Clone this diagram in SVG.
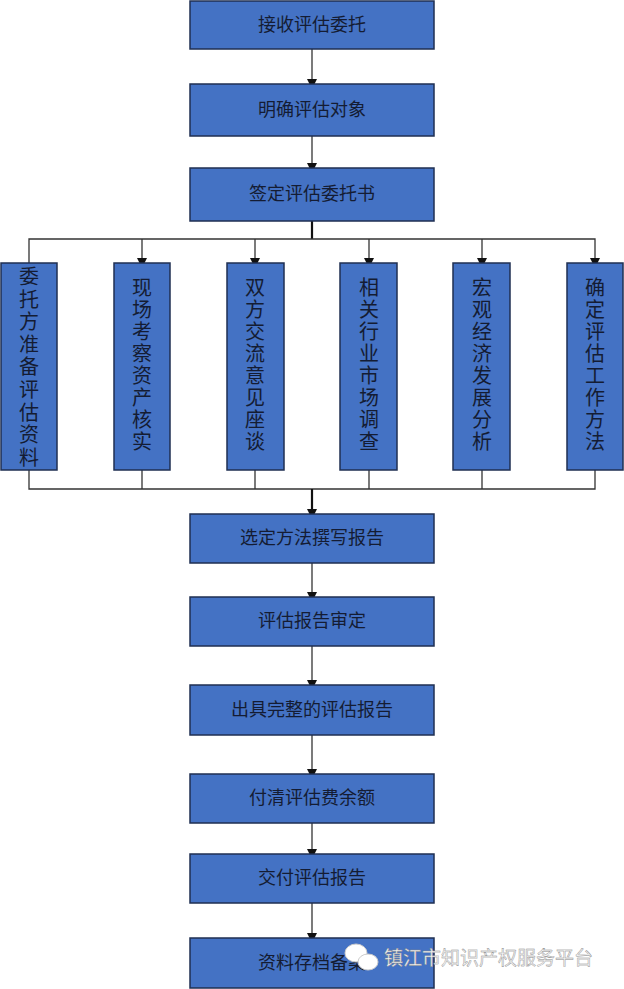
<svg xmlns="http://www.w3.org/2000/svg" width="624" height="989" viewBox="0 0 624 989">
<style>
.b{fill:#4472c4;stroke:#1f2f52;stroke-width:1.5}
.t{font-family:"Liberation Serif","Noto Sans CJK SC",serif;font-size:18px;fill:#141c33;text-anchor:middle}
.v{font-family:"Liberation Serif","Noto Sans CJK SC",serif;font-size:20px;fill:#141c33;text-anchor:middle}
.c{stroke:#333;stroke-width:1.3;fill:none}
.m{stroke:#111;stroke-width:2.2;fill:none}
</style>
<defs><marker id="a" markerWidth="10" markerHeight="10" refX="5" refY="9" orient="auto" markerUnits="userSpaceOnUse" viewBox="0 0 10 10"><path d="M0,0L10,0L5,10z" fill="#111"/></marker>
<marker id="ar" markerWidth="10" markerHeight="10" refX="5" refY="5" orient="auto" markerUnits="userSpaceOnUse" viewBox="0 0 10 10"><path d="M0,0L10,5L0,10z" fill="#111"/></marker></defs>
<rect width="624" height="989" fill="#fff"/>
<g id="connectors">
<line class="c" x1="312" y1="49" x2="312" y2="84" marker-end="url(#ar)"/>
<line class="c" x1="312" y1="136" x2="312" y2="168" marker-end="url(#ar)"/>
<line class="m" x1="312" y1="221" x2="312" y2="239"/>
<polyline class="c" points="29,263 29,239 595,239 595,263" marker-end="url(#ar)"/>
<line class="c" x1="142" y1="239" x2="142" y2="263" marker-end="url(#ar)"/>
<line class="c" x1="255" y1="239" x2="255" y2="263" marker-end="url(#ar)"/>
<line class="c" x1="369" y1="239" x2="369" y2="263" marker-end="url(#ar)"/>
<line class="c" x1="482" y1="239" x2="482" y2="263" marker-end="url(#ar)"/>
<line class="c" x1="29" y1="29" x2="29" y2="29"/>
<polyline class="c" points="29,470 29,489 595,489 595,470"/>
<line class="c" x1="142" y1="470" x2="142" y2="489"/>
<line class="c" x1="255" y1="470" x2="255" y2="489"/>
<line class="c" x1="369" y1="470" x2="369" y2="489"/>
<line class="c" x1="482" y1="470" x2="482" y2="489"/>
<line class="m" x1="312" y1="489" x2="312" y2="514" marker-end="url(#ar)"/>
<line class="c" x1="312" y1="563" x2="312" y2="597" marker-end="url(#ar)"/>
<line class="c" x1="312" y1="646" x2="312" y2="685" marker-end="url(#ar)"/>
<line class="c" x1="312" y1="735" x2="312" y2="774" marker-end="url(#ar)"/>
<line class="c" x1="312" y1="823" x2="312" y2="854" marker-end="url(#ar)"/>
<line class="c" x1="312" y1="903" x2="312" y2="938" marker-end="url(#ar)"/>
</g>
<g id="n1"><rect class="b" x="190" y="1" width="244" height="48"/><text class="t" x="312" y="31">接收评估委托</text></g>
<g id="n2"><rect class="b" x="190" y="84" width="244" height="52"/><text class="t" x="312" y="116">明确评估对象</text></g>
<g id="n3"><rect class="b" x="190" y="168" width="244" height="53"/><text class="t" x="312" y="200">签定评估委托书</text></g>
<g id="v1"><rect class="b" x="1" y="263" width="56" height="207"/><text class="v" x="29" y="284"><tspan x="29">委</tspan><tspan x="29" dy="22.6">托</tspan><tspan x="29" dy="22.6">方</tspan><tspan x="29" dy="22.6">准</tspan><tspan x="29" dy="22.6">备</tspan><tspan x="29" dy="22.6">评</tspan><tspan x="29" dy="22.6">估</tspan><tspan x="29" dy="22.6">资</tspan><tspan x="29" dy="22.6">料</tspan></text></g>
<g id="v2"><rect class="b" x="114" y="263" width="56" height="207"/><text class="v" x="142" y="295"><tspan x="142">现</tspan><tspan x="142" dy="22">场</tspan><tspan x="142" dy="22">考</tspan><tspan x="142" dy="22">察</tspan><tspan x="142" dy="22">资</tspan><tspan x="142" dy="22">产</tspan><tspan x="142" dy="22">核</tspan><tspan x="142" dy="22">实</tspan></text></g>
<g id="v3"><rect class="b" x="227" y="263" width="57" height="207"/><text class="v" x="255" y="295"><tspan x="255">双</tspan><tspan x="255" dy="22">方</tspan><tspan x="255" dy="22">交</tspan><tspan x="255" dy="22">流</tspan><tspan x="255" dy="22">意</tspan><tspan x="255" dy="22">见</tspan><tspan x="255" dy="22">座</tspan><tspan x="255" dy="22">谈</tspan></text></g>
<g id="v4"><rect class="b" x="340" y="263" width="57" height="207"/><text class="v" x="369" y="295"><tspan x="369">相</tspan><tspan x="369" dy="22">关</tspan><tspan x="369" dy="22">行</tspan><tspan x="369" dy="22">业</tspan><tspan x="369" dy="22">市</tspan><tspan x="369" dy="22">场</tspan><tspan x="369" dy="22">调</tspan><tspan x="369" dy="22">查</tspan></text></g>
<g id="v5"><rect class="b" x="453" y="263" width="57" height="207"/><text class="v" x="482" y="295"><tspan x="482">宏</tspan><tspan x="482" dy="22">观</tspan><tspan x="482" dy="22">经</tspan><tspan x="482" dy="22">济</tspan><tspan x="482" dy="22">发</tspan><tspan x="482" dy="22">展</tspan><tspan x="482" dy="22">分</tspan><tspan x="482" dy="22">析</tspan></text></g>
<g id="v6"><rect class="b" x="567" y="263" width="56" height="207"/><text class="v" x="595" y="295"><tspan x="595">确</tspan><tspan x="595" dy="22">定</tspan><tspan x="595" dy="22">评</tspan><tspan x="595" dy="22">估</tspan><tspan x="595" dy="22">工</tspan><tspan x="595" dy="22">作</tspan><tspan x="595" dy="22">方</tspan><tspan x="595" dy="22">法</tspan></text></g>
<g id="n4"><rect class="b" x="190" y="514" width="244" height="49"/><text class="t" x="312" y="544">选定方法撰写报告</text></g>
<g id="n5"><rect class="b" x="190" y="597" width="244" height="49"/><text class="t" x="312" y="627">评估报告审定</text></g>
<g id="n6"><rect class="b" x="190" y="685" width="244" height="50"/><text class="t" x="312" y="716">出具完整的评估报告</text></g>
<g id="n7"><rect class="b" x="190" y="774" width="244" height="49"/><text class="t" x="312" y="804">付清评估费余额</text></g>
<g id="n8"><rect class="b" x="190" y="854" width="244" height="49"/><text class="t" x="312" y="884">交付评估报告</text></g>
<g id="n9"><rect class="b" x="190" y="938" width="244" height="50"/><text class="t" x="312" y="969">资料存档备案</text></g>
<g id="watermark">
<ellipse cx="356" cy="953" rx="11" ry="9" fill="#fff" stroke="#ccc"/>
<ellipse cx="368" cy="962" rx="10" ry="8" fill="#fff" stroke="#ccc"/>
<text x="384" y="965" font-family="Noto Sans CJK SC,sans-serif" font-size="19" fill="#f4f4f4" stroke="#888" stroke-width="0.4">镇江市知识产权服务平台</text>
</g>
</svg>
